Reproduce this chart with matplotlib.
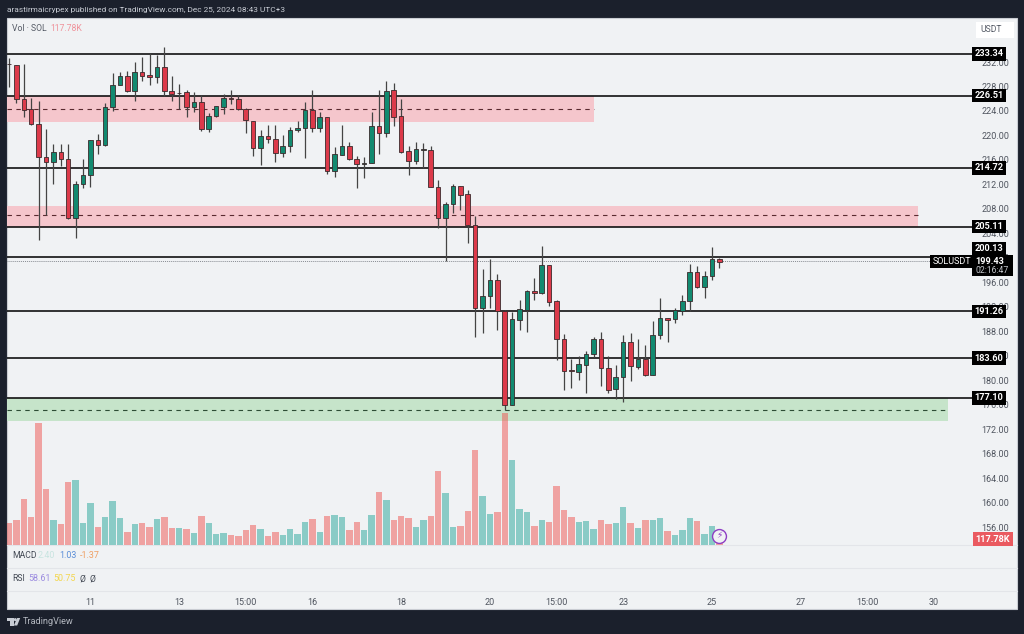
import matplotlib
matplotlib.use("Agg")
import matplotlib.pyplot as plt
from matplotlib.patches import Rectangle, Polygon, Circle
from matplotlib.transforms import blended_transform_factory

plt.rcParams['font.family'] = ['Roboto', 'DejaVu Sans']

# (body top, body bottom, wick top, wick bottom) in price units, direction per candle
body_top = [231.72,231.51,225.90,224.26,221.81,216.53,217.24,217.24,216.15,212.06,213.48,219.25,219.25,224.70,228.29,229.66,229.66,230.31,230.31,229.87,231.24,231.24,227.20,226.99,227.04,225.52,225.52,223.12,224.75,226.06,226.12,225.90,224.26,222.41,219.91,219.91,219.36,218.27,220.83,221.16,224.16,224.16,223.07,223.07,216.91,218.27,218.27,216.09,215.49,221.49,221.49,227.31,227.37,223.12,217.40,217.73,217.73,217.62,211.63,208.79,211.74,211.74,210.37,205.36,193.82,196.32,196.32,191.36,189.95,191.58,194.58,194.52,198.83,198.83,192.94,186.68,181.67,182.59,184.34,186.74,186.68,181.94,180.58,186.19,186.19,183.52,183.52,187.44,190.11,190.17,191.42,192.89,197.68,197.68,197.03,199.75,199.75]
body_bot = [231.62,225.90,224.16,221.81,216.53,215.71,215.71,216.15,206.45,206.45,212.01,213.48,218.38,218.38,224.59,228.29,227.20,227.20,229.77,229.49,229.49,227.20,226.82,226.88,224.70,224.70,221.05,221.05,223.17,224.70,225.90,224.26,222.47,217.95,217.95,219.36,217.18,217.18,218.27,220.83,221.16,221.16,221.16,214.13,214.13,216.80,216.09,215.39,215.39,215.49,220.34,220.34,223.07,217.35,215.82,215.82,217.56,211.63,206.45,206.45,208.79,210.32,205.42,191.75,191.75,193.76,191.36,176.00,176.00,189.89,191.53,194.25,194.20,192.83,186.68,181.56,181.56,181.40,182.54,184.34,181.94,178.40,178.51,180.58,182.27,182.21,180.85,180.85,187.44,189.89,189.95,191.36,192.89,195.18,195.18,197.03,199.37]
highs = [232.60,231.51,231.67,226.06,225.63,220.99,218.60,218.55,218.55,212.61,216.20,219.25,220.18,225.24,230.15,230.42,230.53,231.94,232.87,233.41,233.14,234.50,229.66,228.35,227.42,227.15,226.61,223.72,224.81,226.82,227.42,226.66,224.43,222.41,220.89,221.70,221.70,220.07,221.43,222.41,225.46,227.42,223.88,223.07,218.05,221.70,218.87,216.64,216.53,223.88,227.42,228.89,228.51,225.95,218.27,218.87,218.71,218.33,212.72,209.18,212.00,211.74,211.08,206.89,198.12,199.81,197.36,191.47,191.20,193.11,194.74,196.76,201.93,198.83,193.11,187.50,183.41,183.96,184.77,187.12,187.93,183.96,182.43,187.39,187.66,186.68,185.75,189.68,193.49,190.22,191.85,193.92,198.93,198.66,197.90,201.82,199.92]
lows = [227.97,225.24,222.96,221.70,202.91,206.99,212.06,215.06,206.34,203.24,211.35,211.63,216.91,218.33,224.05,228.24,227.15,225.63,228.89,228.24,228.62,226.44,225.68,224.26,223.01,223.88,220.72,220.61,223.07,223.56,225.14,224.16,220.34,216.69,215.17,218.82,215.71,216.53,217.35,220.51,216.26,220.51,220.61,213.64,213.26,216.80,215.98,211.35,212.99,215.44,216.97,219.80,221.60,217.18,213.53,215.39,214.62,211.52,204.82,199.48,207.27,207.81,202.48,187.12,187.66,191.75,188.21,175.13,175.95,188.21,187.93,193.11,194.09,192.18,183.30,178.40,178.67,180.03,177.96,183.74,179.05,177.96,176.93,176.49,179.93,181.83,180.74,180.80,186.74,186.19,189.29,190.66,191.36,195.01,193.38,196.37,198.39]
candle_up = [0,0,0,0,0,0,1,0,0,1,1,1,0,1,1,1,0,1,0,0,1,0,0,1,0,1,0,1,1,1,0,0,0,0,1,0,0,1,1,1,1,0,1,0,1,1,0,0,1,1,0,1,0,0,0,1,1,0,0,1,1,0,0,0,1,1,0,0,1,1,1,0,1,0,0,0,0,1,1,1,0,0,1,1,0,1,0,1,1,0,1,1,1,0,1,1,0]
volume_k = [448,518,952,574,2562,1169,518,427,1323,1358,448,868,378,574,924,560,266,427,448,378,539,574,343,357,329,238,609,448,231,238,203,189,301,413,329,182,259,203,329,217,469,539,259,609,630,588,315,483,301,616,1099,931,511,595,553,371,511,609,1547,1092,371,385,700,1988,1022,637,693,2758,1778,749,693,392,525,483,1232,728,588,483,497,329,525,427,455,784,462,357,525,525,560,287,203,308,553,497,224,399,118]

level_prices = [233.34, 226.51, 214.72, 205.11, 200.13, 191.26, 183.60, 177.10]
last_price = 199.43
price_ticks = [156,160,164,168,172,176,180,184,188,192,196,200,204,208,212,216,220,224,228,232]
time_tick_pos = [11,23,32,41,53,65,74,83,95,107,116,125]
time_tick_labels = ['11','13','15:00','16','18','20','15:00','23','25','27','15:00','30']
pink_zones = [(222.25,226.44,224.27),(205.10,208.52,207.00)]
green_zone = (173.34,177.10,175.14)

RED, GREEN = '#dc3a4a', '#128a70'
W, H = 1024, 634
DARK = '#1b202c'
fig = plt.figure(figsize=(W/100, H/100), dpi=100, facecolor=DARK)

def rect_px(x0, y0, x1, y1):
    return [x0/W, 1-y1/H, (x1-x0)/W, (y1-y0)/H]

# pixel-space backdrop
bg = fig.add_axes([0,0,1,1], zorder=0)
bg.set_xlim(0, W); bg.set_ylim(H, 0); bg.axis('off')
bg.add_patch(Rectangle((7,18),1010,591,fc='#f0f2f4',ec='#c9ccd2',lw=0.8))
for y in (545,568,591):
    bg.plot([7,1017],[y,y],color='#e3e5e9',lw=0.8)
bg.add_patch(Rectangle((976,22),38,16,fc='#ffffff',ec='none'))
bg.text(991,30,'USDT',fontsize=6.2,color='#555b66',ha='center',va='center')

bg.text(7,10,'arastirmaicrypex published on TradingView.com, Dec 25, 2024 08:43 UTC+3',fontsize=5.95,color='#c8ccd4',va='center')
bg.text(12,28.5,'Vol · SOL',fontsize=6.2,color='#555b66',va='center')
bg.text(50,28.5,'117.78K',fontsize=6.2,color='#ef929a',va='center')
bg.text(12,555.5,'MACD',fontsize=6.2,color='#444a55',va='center')
bg.text(38,555.5,'2.40',fontsize=6.4,color='#c8e4e0',va='center')
bg.text(59,555.5,'1.03',fontsize=6.4,color='#5b8ed8',va='center')
bg.text(80,555.5,'-1.37',fontsize=6.4,color='#ef9f63',va='center')
bg.text(12,578.5,'RSI',fontsize=6.2,color='#444a55',va='center')
bg.text(28,578.5,'58.61',fontsize=6.4,color='#9c8ce0',va='center')
bg.text(53,578.5,'50.75',fontsize=6.4,color='#f3d64e',va='center')
bg.text(79,578.5,'Ø',fontsize=6.2,color='#444a55',va='center')
bg.text(89,578.5,'Ø',fontsize=6.2,color='#444a55',va='center')
# TradingView mark and word
bg.add_patch(Polygon([(7,618),(13.5,618),(13.5,625.5),(10,625.5),(10,621),(7,621)],fc='#c8ccd4',ec='none'))
bg.add_patch(Circle((15.3,619.6),1.5,fc='#c8ccd4',ec='none'))
bg.add_patch(Polygon([(17.2,618),(20.2,618),(17.2,625.5),(13.8,625.5)],fc='#c8ccd4',ec='none'))
bg.text(23,622,'TradingView',fontsize=6.6,color='#b4b8c0',va='center')

# main price axes
ax = fig.add_axes(rect_px(7,18,972,591), zorder=1)
ax.patch.set_visible(False)
ax.set_xlim(-0.27, 130.14)
ax.set_ylim(232-(591-62)/6.12, 232+(62-18)/6.12)
for s in ax.spines.values():
    s.set_visible(False)

xright_pink = [79.1, 122.9]
for (lo, hi, mid), xr in zip(pink_zones, xright_pink):
    ax.fill_between([-0.27, xr], lo, hi, color='#f5c6cc', lw=0, zorder=1)
    ax.plot([-0.27, xr], [mid, mid], color='#5a2a30', lw=0.8, ls=(0,(4,4)), zorder=2)
lo, hi, mid = green_zone
ax.fill_between([-0.27, 126.9], lo, hi, color='#c6e4ca', lw=0, zorder=1)
ax.plot([-0.27, 126.9], [mid, mid], color='#2d4d35', lw=0.8, ls=(0,(4,4)), zorder=2)

for p in level_prices:
    ax.axhline(p, color='#111111', lw=1.2, zorder=2)
ax.plot([-0.27, 125], [last_price]*2, color='#888c92', lw=0.7, ls=(0,(1,1)), zorder=2)

n = len(body_top)
xs = list(range(n))
cols = [GREEN if u else RED for u in candle_up]
ax.vlines(xs, lows, highs, color='#444444', lw=0.9, zorder=3)
ax.bar(xs, [t-b for t, b in zip(body_top, body_bot)], bottom=body_bot, width=0.62,
       color=cols, edgecolor='#3a2a2c', linewidth=0.6, zorder=4)

# volume pane
ax2 = ax.twinx()
ax2.set_zorder(2)
ax2.patch.set_visible(False)
for s in ax2.spines.values():
    s.set_visible(False)
ax2.set_ylim(-(591-544.7)*21, (544.7-18)*21)
ax2.set_yticks([])
vcols = ['#26a69a' if u else '#ef5350' for u in candle_up]
ax2.bar(xs, volume_k, width=0.88, color=vcols, alpha=0.5, lw=0)

# twinx moves the price axis to the left, so the scale is placed on the right afterwards
ax.yaxis.tick_right()
ax.set_yticks(price_ticks)
ax.set_yticklabels([f'{p:.2f}' for p in price_ticks], fontsize=6.5, color='#50555f')
ax.tick_params(axis='y', length=0, pad=7)
ax.set_xticks(time_tick_pos)
ax.set_xticklabels(time_tick_labels, fontsize=6.5, color='#50555f')
ax.tick_params(axis='x', length=0, pad=5)

# labels on the price scale
tr = blended_transform_factory(ax.transAxes, ax.transData)
def xfrac(px):
    return (px-7)/965
def tag(price, text, px, dy=0, fc='black', col='white', weight='bold', size=6.6):
    ax.annotate(text, xy=(xfrac(px), price), xycoords=tr, xytext=(0, dy), textcoords='offset points',
                ha='center', va='center', fontsize=size, color=col, fontweight=weight, zorder=6,
                annotation_clip=False,
                bbox=dict(boxstyle='square,pad=0.25', fc=fc, ec='none'))
bg.add_patch(Rectangle((972,256),41,20,fc='black',ec='none',zorder=5))
ax.add_patch(Rectangle((xfrac(972), last_price-(276-262)/6.12), 41/965, 20/6.12, transform=tr,
                       fc='black', ec='none', zorder=5, clip_on=False))
for p in level_prices:
    if p != 200.13:
        tag(p, f'{p:.2f}', 989)
tag(200.13, '200.13', 989, dy=5.8)
ax.text(xfrac(990), last_price, f'{last_price:.2f}', transform=tr, ha='center', va='center',
        fontsize=6.6, color='white', fontweight='bold', zorder=6, clip_on=False)
ax.annotate('02:16:47', xy=(xfrac(992), last_price), xycoords=tr, xytext=(0,-6.8), textcoords='offset points',
            ha='center', va='center', fontsize=6.2, color='#c4c7cc', zorder=6, annotation_clip=False)
tag(last_price, 'SOLUSDT', 952, size=6.5, weight='normal')

tr2 = blended_transform_factory(ax2.transAxes, ax2.transData)
ax2.text(xfrac(993), volume_k[-1], '117.78K', transform=tr2, ha='center', va='center', fontsize=6.6,
         color='white', fontweight='bold', clip_on=False,
         bbox=dict(boxstyle='square,pad=0.3', fc='#ea5a60', ec='none'))
ax2.plot([96], [190], marker='o', ms=10, mfc='#f0f2f4', mec='#8e3fc4', mew=1.0, zorder=5)
ax2.text(96, 190, '⚡', fontsize=6.5, color='#8e3fc4', ha='center', va='center', zorder=6, family='DejaVu Sans')

fig.savefig('out.png', dpi=100, facecolor=DARK)
